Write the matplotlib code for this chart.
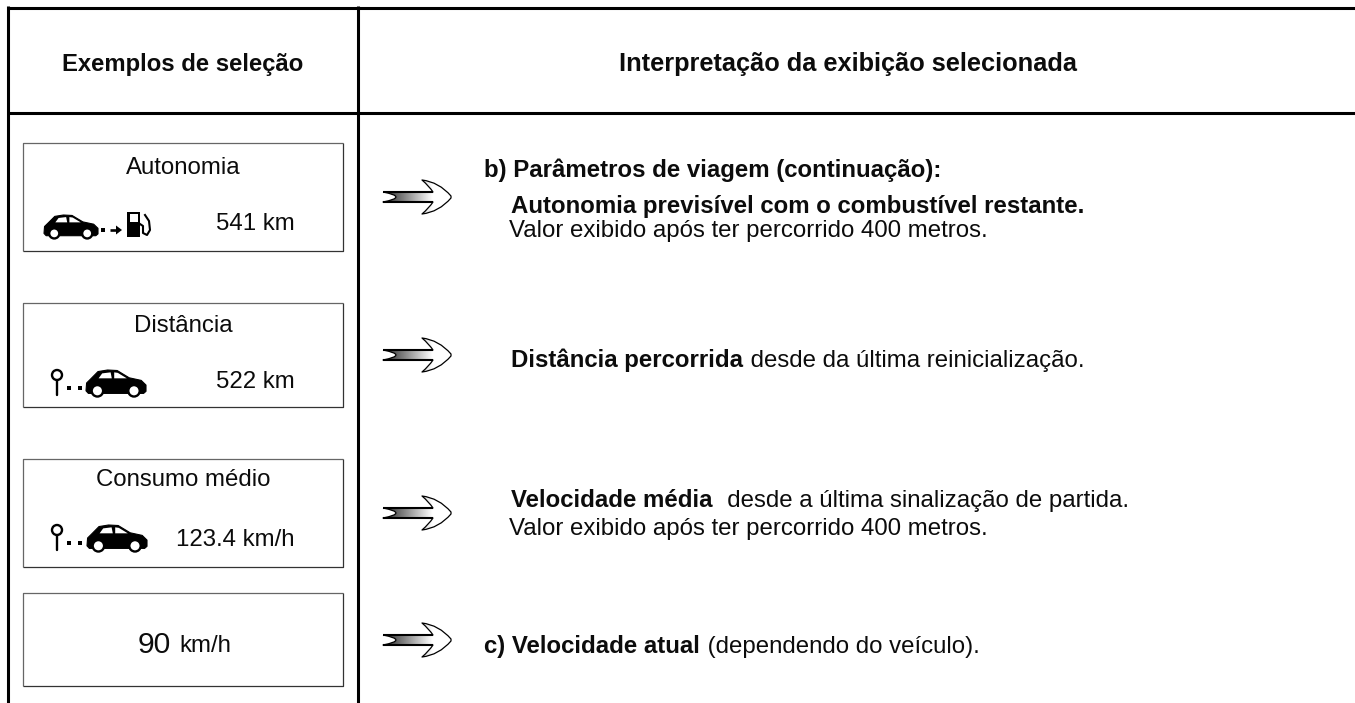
import numpy as np
import matplotlib
matplotlib.use("Agg")
import matplotlib.pyplot as plt
from matplotlib.path import Path
from matplotlib.patches import PathPatch, Circle, Rectangle, Polygon

plt.rcParams['font.family'] = ['Liberation Sans', 'DejaVu Sans']

# ---- content ----
headers = ["Exemplos de seleção", "Interpretação da exibição selecionada"]
box_titles = ["Autonomia", "Distância", "Consumo médio"]
box_values = ["541 km", "522 km", "123.4 km/h"]
big_value = "90"
big_unit = "km/h"
section_b = "b) Parâmetros de viagem (continuação):"
auto_bold = "Autonomia previsível com o combustível restante."
valor_note = "Valor exibido após ter percorrido 400 metros."
dist_bold = "Distância percorrida"
dist_rest = " desde da última reinicialização."
vel_bold = "Velocidade média"
vel_rest = "  desde a última sinalização de partida."
section_c_bold = "c) Velocidade atual"
section_c_rest = " (dependendo do veículo)."

# ---- layout (pixels) ----
W, H = 1355, 703
fig = plt.figure(figsize=(W / 100, H / 100), dpi=100)
ax = fig.add_axes([0, 0, 1, 1])
ax.set_xlim(0, W)
ax.set_ylim(H, 0)
ax.set_autoscale_on(False)
ax.axis('off')

LW = 2.2
for y in (7.5, 112.5):
    ax.plot([7, W], [y, y], color='black', lw=LW, solid_capstyle='butt')
for x in (8, 358):
    ax.plot([x, x], [6, H], color='black', lw=LW, solid_capstyle='butt')

SIZE = 17.3
HEAD = 17.2
HEAD_WIDE = 18.3


def box(y0, y1, x0=23, x1=343):
    ax.plot([x0, x0, x1], [y1, y0, y0], color='#666666', lw=0.9, solid_capstyle='butt')
    ax.plot([x0, x1, x1], [y1, y1, y0], color='#333333', lw=0.9, solid_capstyle='butt')


def txt(x, y, s, size=SIZE, weight='normal', ha='left'):
    return ax.text(x, y, s, fontsize=size, fontweight=weight, ha=ha, va='center_baseline', color='#0c0c0c')


def mixed(x, y, bold, rest):
    t = txt(x, y, bold, weight='bold')
    fig.canvas.draw()
    txt(t.get_window_extent().x1 + 1, y, rest)


def arrow(cy, sx0=383, hx=433, barb=422, tip=451):
    verts = [(sx0, cy - 5), (hx, cy - 5),
             (hx - 4, cy - 11), (barb, cy - 17),
             (barb + 17, cy - 15), (tip, cy - 1), (tip, cy + 1),
             (barb + 17, cy + 15), (barb, cy + 17),
             (hx - 4, cy + 11), (hx, cy + 5),
             (sx0, cy + 5), (sx0 + 26, cy), (sx0, cy - 5)]
    codes = [Path.MOVETO, Path.LINETO,
             Path.CURVE3, Path.CURVE3,
             Path.CURVE3, Path.CURVE3, Path.LINETO,
             Path.CURVE3, Path.CURVE3,
             Path.CURVE3, Path.CURVE3,
             Path.LINETO, Path.CURVE3, Path.CURVE3]
    path = Path(verts, codes)
    grad = np.clip(np.linspace(0.15, 1.31, 128), 0, 1).reshape(1, -1)
    im = ax.imshow(grad, extent=(sx0, tip, cy + 20, cy - 20), cmap='gray', vmin=0, vmax=1,
                   aspect='auto', zorder=2.9)
    clip = PathPatch(path, transform=ax.transData, fc='none', ec='none')
    ax.add_patch(clip)
    im.set_clip_path(clip)
    ax.add_patch(PathPatch(path, fc='none', ec='black', lw=0.9, joinstyle='round', zorder=3))
    ax.plot([sx0, hx], [cy - 5, cy - 5], color='black', lw=1.5, zorder=3, solid_capstyle='butt')
    ax.plot([sx0, hx], [cy + 5, cy + 5], color='black', lw=1.5, zorder=3, solid_capstyle='butt')


def car(x0, y0, w, h):
    def P(u, v):
        return (x0 + u * w, y0 + v * h)
    pts = [(0.0, 0.80), (0.01, 0.50), (0.08, 0.34), (0.20, 0.06), (0.36, 0.0), (0.52, 0.02), (0.72, 0.30),
           (0.92, 0.40), (1.0, 0.58), (1.0, 0.82), (0.96, 0.90), (0.04, 0.90)]
    ax.add_patch(Polygon([P(*q) for q in pts], closed=True, fc='black', ec='black', lw=0.8, joinstyle='round', zorder=4))
    for win in ([(0.21, 0.32), (0.27, 0.13), (0.41, 0.09), (0.43, 0.32)],
                [(0.47, 0.09), (0.53, 0.11), (0.68, 0.32), (0.47, 0.32)]):
        ax.add_patch(Polygon([P(*q) for q in win], closed=True, fc='white', ec='none', zorder=5))
    r = h * 0.22
    for u in (0.19, 0.80):
        cx, cy = P(u, 0.80)
        ax.add_patch(Circle((cx, cy), r, fc='white', ec='black', lw=1.7, zorder=5))


def dots(xs, y, s=4):
    for x in xs:
        ax.add_patch(Rectangle((x - s / 2, y - s / 2), s, s, fc='black', ec='none', zorder=4))


def pump(x0, y0):
    ax.add_patch(Rectangle((x0, y0), 13, 25, fc='black', ec='none', zorder=4))
    ax.add_patch(Rectangle((x0 + 2.5, y0 + 2), 8, 8, fc='white', ec='none', zorder=5))
    hose = [(x0 + 13, y0 + 12), (x0 + 16, y0 + 14), (x0 + 16, y0 + 21), (x0 + 20, y0 + 23),
            (x0 + 23, y0 + 18), (x0 + 22, y0 + 9), (x0 + 18, y0 + 3)]
    ax.plot(*zip(*hose), color='black', lw=1.5, zorder=4)


def pin(x, y):
    ax.add_patch(Circle((x, y), 5, fc='white', ec='black', lw=1.7, zorder=4))
    ax.plot([x, x], [y + 5, y + 20], color='black', lw=1.7, solid_capstyle='round', zorder=4)


def small_arrow(x0, y):
    ax.plot([x0, x0 + 8], [y, y], color='black', lw=1.9, zorder=4, solid_capstyle='butt')
    ax.add_patch(Polygon([(x0 + 6, y - 4.5), (x0 + 12, y), (x0 + 6, y + 4.5)], fc='black', ec='none', zorder=4))


# headers
txt(183, 62, headers[0], size=HEAD, weight='bold', ha='center')
txt(848, 62, headers[1], size=HEAD_WIDE, weight='bold', ha='center')

# boxes
box(143, 251)
box(303, 407)
box(459, 567)
box(593, 686)

txt(183, 165, box_titles[0], ha='center')
txt(295, 222, box_values[0], ha='right')
txt(183, 323, box_titles[1], ha='center')
txt(295, 380, box_values[1], ha='right')
txt(183, 478, box_titles[2], ha='center')
txt(295, 537, box_values[2], ha='right')

t90 = txt(138, 642, big_value, size=21.6)
fig.canvas.draw()
txt(t90.get_window_extent().x1 + 8, 644, big_unit)

# icons
car(44, 215, 54, 23)
dots([103], 230)
small_arrow(110, 230)
pump(127, 212)

pin(57, 375)
dots([69, 80], 388)
car(86, 370, 60, 26)

pin(57, 530)
dots([69, 80], 543)
car(87, 525, 60, 26)

# arrows
for cy in (197, 355, 513, 640):
    arrow(cy)

# right column
txt(484, 168, section_b, weight='bold')
txt(511, 204, auto_bold, weight='bold')
txt(509, 228, valor_note)
mixed(511, 358, dist_bold, dist_rest)
mixed(511, 498, vel_bold, vel_rest)
txt(509, 526, valor_note)
mixed(484, 644, section_c_bold, section_c_rest)

ax.set_xlim(0, W)
ax.set_ylim(H, 0)
fig.savefig('out.png', dpi=100, facecolor='white')
